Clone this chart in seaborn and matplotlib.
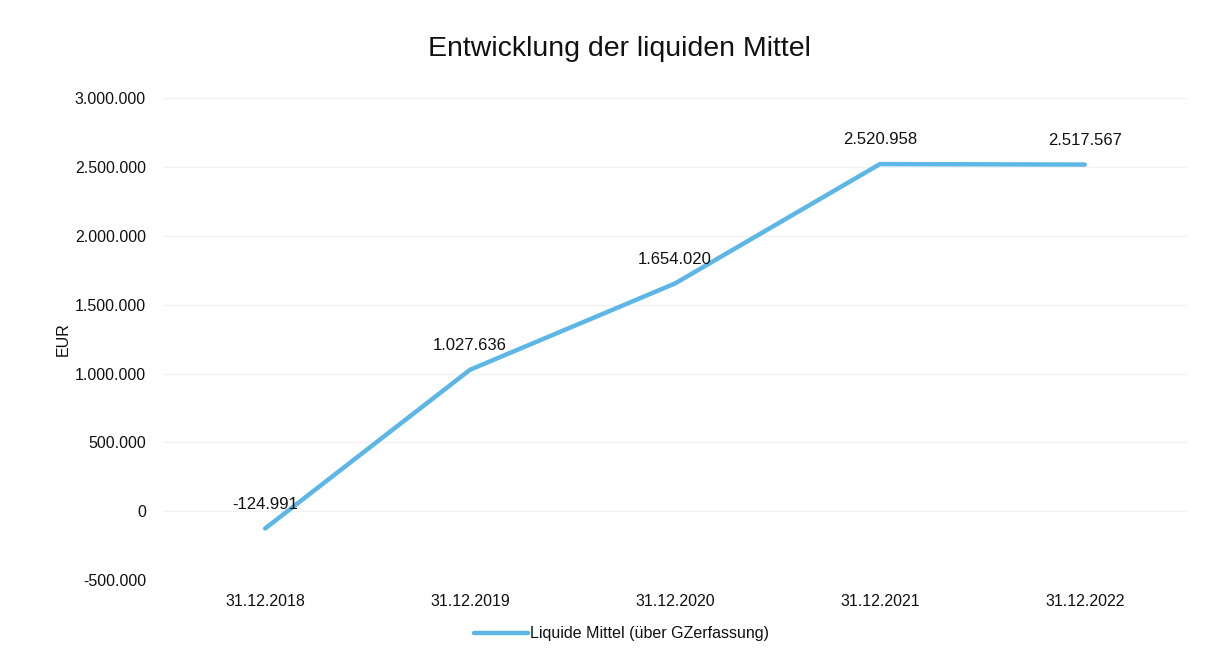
import matplotlib
matplotlib.use('Agg')
import matplotlib.pyplot as plt
import matplotlib.ticker as mticker
import seaborn as sns
import pandas as pd

# Data
dates = ['31.12.2018', '31.12.2019', '31.12.2020', '31.12.2021', '31.12.2022']
liquid_funds = [-124991, 1027636, 1654020, 2520958, 2517567]
series_name = 'Liquide Mittel (über GZerfassung)'

LINE_COLOR = '#5cb6e6'
TEXT_COLOR = '#111111'

sns.set_theme(style='white')
plt.rcParams['font.family'] = ['Liberation Sans', 'DejaVu Sans']


def de_fmt(v, pos=None):
    s = f'{abs(int(round(v))):,}'.replace(',', '.')
    return ('-' if v < 0 else '') + s


df = pd.DataFrame({'date': dates, 'value': liquid_funds})

fig = plt.figure(figsize=(12.14, 6.63), dpi=100)
ax = fig.add_axes([0.134, 0.125, 0.844, 0.727])

sns.lineplot(data=df, x='date', y='value', ax=ax, color=LINE_COLOR,
             linewidth=3.2, label=series_name, sort=False)

ax.set_ylim(-500000, 3000000)
ax.set_xlim(-0.5, len(dates) - 0.5)
ax.yaxis.set_major_locator(mticker.MultipleLocator(500000))
ax.yaxis.set_major_formatter(mticker.FuncFormatter(de_fmt))
ax.grid(axis='y', color='#f2f2f2', linewidth=1)
ax.set_axisbelow(True)
for s in ax.spines.values():
    s.set_visible(False)
ax.tick_params(axis='both', length=0, labelsize=11.5, colors=TEXT_COLOR)
ax.tick_params(axis='x', pad=10)
ax.tick_params(axis='y', pad=12)

ax.set_xlabel('')
ax.set_ylabel('EUR', fontsize=11.5, color=TEXT_COLOR, labelpad=3)

# data labels
for i, v in enumerate(liquid_funds):
    ax.annotate(de_fmt(v), (i, v), xytext=(0, 12), textcoords='offset points',
                ha='center', va='bottom', fontsize=12, color=TEXT_COLOR)

fig.suptitle('Entwicklung der liquiden Mittel', fontsize=20.5, color=TEXT_COLOR,
             x=0.51, y=0.945)

ax.get_legend().remove()
leg = fig.legend(*ax.get_legend_handles_labels(), loc='center',
                 bbox_to_anchor=(0.512, 0.044), frameon=False,
                 fontsize=11.5, handlelength=3.4, handletextpad=0.1)
for t in leg.get_texts():
    t.set_color(TEXT_COLOR)

fig.savefig('out.png', dpi=100, facecolor='white')
